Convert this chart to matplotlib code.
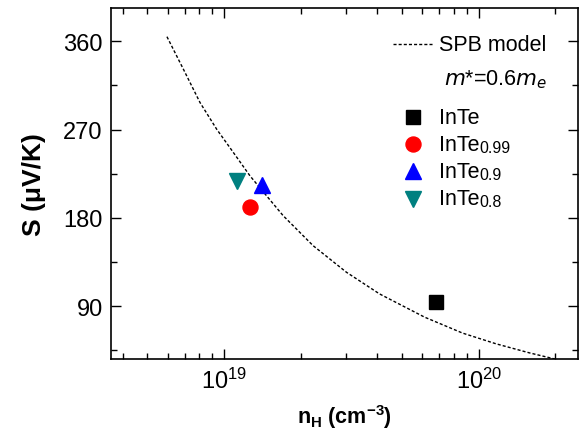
"""Seebeck coefficient vs Hall carrier density for InTe samples, with SPB model curve."""
import matplotlib

matplotlib.use("Agg")
import matplotlib.pyplot as plt
from matplotlib.ticker import FixedLocator, NullFormatter

plt.rcParams["font.family"] = ["Liberation Sans", "DejaVu Sans"]
plt.rcParams["mathtext.default"] = "regular"

# measured samples
SAMPLES = ["InTe", "InTe", "InTe", "InTe"]
SUFFIX = ["", "0.99", "0.9", "0.8"]
N_H = [6.8e19, 1.27e19, 1.405e19, 1.127e19]
S = [94.5, 191, 213, 218]
MARKERS = ["s", "o", "^", "v"]
COLORS = ["#000000", "#ff0000", "#0000ff", "#008080"]
MSIZE = [9.6, 10.8, 11.5, 11.5]

# SPB model curve (m* = 0.6 me)
SPB_N = [5.97e18, 6.93e18, 8.05e18, 9.36e18, 1.088e19, 1.264e19, 1.469e19,
         1.707e19, 2.238e19, 3.025e19, 4.08e19, 6.13e19, 8.65e19, 1.17e20,
         1.58e20, 1.92e20, 2.1e20]
SPB_S = [364.8, 331.5, 297.6, 270.4, 246.7, 222.9, 202.5, 182.2, 151.6,
         124.5, 102.4, 78.7, 62.4, 51.5, 42.3, 37.0, 34.5]

fig = plt.figure(figsize=(5.79, 4.31), dpi=100)
ax = fig.add_axes([0.1917, 0.1647, 0.8063, 0.8143])

line, = ax.plot(SPB_N, SPB_S, color="black", lw=1.0)
line.set_dashes((2.2, 1.5))

for x, y, m, c, ms in zip(N_H, S, MARKERS, COLORS, MSIZE):
    ax.plot([x], [y], marker=m, color=c, ms=ms, mec=c, ls="none")

ax.set_xscale("log")
ax.set_xlim(3.6e18, 2.45e20)
ax.set_ylim(36, 394)
ax.yaxis.set_major_locator(FixedLocator([90, 180, 270, 360]))
ax.yaxis.set_minor_locator(FixedLocator([45, 135, 225, 315]))
ax.xaxis.set_minor_formatter(NullFormatter())

for sp in ax.spines.values():
    sp.set_linewidth(1.2)
ax.tick_params(which="both", direction="in", top=True, right=True,
               labelsize=17, width=1.0)
ax.tick_params(which="major", length=7, pad=6)
ax.tick_params(which="minor", length=4)
ax.tick_params(axis="x", which="major", pad=6)

ax.set_xlabel(r"n$_H$ (cm$^{-3}$)", fontsize=15.5, fontweight="bold", labelpad=7)
ax.set_ylabel("S (\u03bcV/K)", fontsize=19, fontweight="bold", labelpad=12)

# legend, drawn by hand to match the original layout
tr = ax.transAxes
ax.plot([0.604, 0.690], [0.897, 0.897], transform=tr, color="black", lw=1.0,
        dashes=(2.2, 1.5))
ax.text(0.702, 0.897, "SPB model", transform=tr, fontsize=15.5, va="center")
ax.text(0.713, 0.798, r"$\it{m}$*=0.6$\it{m_e}$", transform=tr, fontsize=15.5,
        va="center")

rows_y = [0.689, 0.6125, 0.5356, 0.456]
for name, suf, m, c, ms, yy in zip(SAMPLES, SUFFIX, MARKERS, COLORS, MSIZE, rows_y):
    ax.plot([0.647], [yy], marker=m, color=c, ms=ms, mec=c, ls="none",
            transform=tr)
    t = ax.text(0.702, yy, name, transform=tr, fontsize=15.5, va="center")
    if suf:
        ax.annotate(suf, xy=(1, 0), xycoords=t, fontsize=11.5, va="bottom",
                    ha="left")

fig.savefig("out.png", dpi=100)
